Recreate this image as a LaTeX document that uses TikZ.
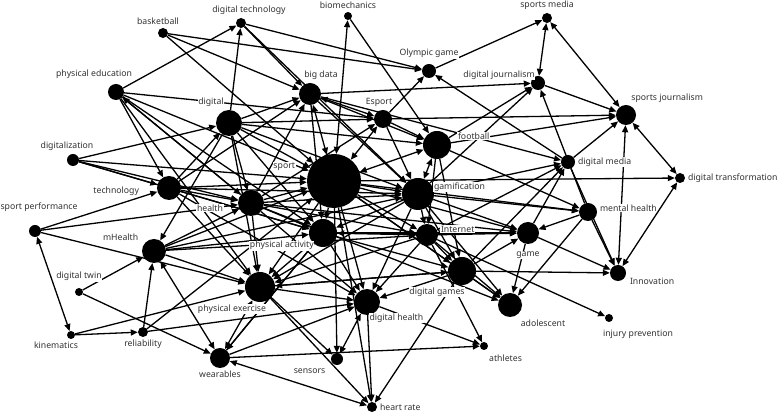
\documentclass[tikz,border=0pt]{standalone}
\usepackage{fontspec}
\setmainfont{Noto Sans}
\usetikzlibrary{arrows.meta,backgrounds}
\begin{document}
\begin{tikzpicture}[x=1pt, y=-1pt,
    vertex/.style={circle, fill=black, inner sep=0pt, minimum size=#1},
    vertex/.default=8pt,
    lbl/.style={font=\fontsize{8.7}{10}\selectfont, text=black!80, fill=white, inner sep=0.6pt},
    every label/.style={lbl}, label distance=2pt,
    arc/.style={-{Triangle[length=7pt,width=6pt]}, line width=1.3pt},
    biarc/.style={{Triangle[length=7pt,width=6pt]}-{Triangle[length=7pt,width=6pt]}, line width=1.3pt}]
    \useasboundingbox (0,0) rectangle (780,419);
    % Top row
    \node[vertex=10pt, label={[xshift=-5pt]above:basketball}]           (basketball)  at (163,33)  {};
    \node[vertex=10pt, label={[xshift=8pt]above:digital technology}]    (digitaltech) at (241,23)  {};
    \node[vertex=8pt,  label=above:biomechanics]                        (biomech)     at (348,16)  {};
    \node[vertex=10pt, label=above:sports media]                        (sportsmedia) at (547,18)  {};
    \node[vertex=14pt, label={[yshift=3pt]above:Olympic game}]          (olympic)     at (429,71)  {};
    \node[vertex=14pt, label={[xshift=4pt,yshift=-4pt]above left:digital journalism}] (digjour) at (538,83) {};
    \node[vertex=22pt, label={[xshift=11pt]above:big data}]             (bigdata)     at (310,94)  {};
    \node[vertex=18pt, label={[xshift=-4pt]above:Esport}]               (esport)      at (383,119) {};
    \node[vertex=20pt, label={[xshift=-4pt,yshift=3pt]above right:sports journalism}] (sportsjour) at (626,115) {};
    % Left side
    \node[vertex=16pt, label={[xshift=-22pt,yshift=2pt]above:physical education}] (physedu) at (116,92) {};
    \node[vertex=26pt, label={[xshift=-18pt]above:digital}]             (digital)     at (229,123) {};
    \node[vertex=12pt, label={[xshift=-6pt]above:digitalization}]       (digitalization) at (73,160) {};
    \node[vertex=24pt, label={[xshift=-15pt,yshift=-3pt]left:technology}] (technology) at (169,188) {};
    \node[vertex=26pt, label={[xshift=-12pt,yshift=-5pt]left:health}]   (health)      at (251,203) {};
    \node[vertex=12pt, label={[xshift=4pt,yshift=10pt]above:sport performance}] (sportperf) at (35,231) {};
    \node[vertex=24pt, label={[xshift=-5pt]above left:mHealth}]         (mhealth)     at (154,251) {};
    \node[vertex=8pt,  label={[yshift=4pt]above:digital twin}]          (digitaltwin) at (79,292)  {};
    \node[vertex=8pt,  label={[xshift=-15pt]below:kinematics}]          (kinematics)  at (71,335)  {};
    \node[vertex=10pt, label=below:reliability]                         (reliability) at (143,332) {};
    \node[vertex=20pt, label=below:wearables]                           (wearables)   at (220,358) {};
    % Centre
    \node[vertex=54pt, label={[xshift=-9pt,yshift=14pt]left:sport}]     (sport)       at (334,181) {};
    \node[vertex=28pt, label={[xshift=4pt,yshift=9pt]right:football}]   (football)    at (437,145) {};
    \node[vertex=32pt, label={[xshift=-3pt,yshift=7pt]right:gamification}] (gamification) at (418,194) {};
    \node[vertex=28pt, label={[xshift=3pt,yshift=4pt]below left:physical activity}] (physactivity) at (323,233) {};
    \node[vertex=22pt, label={[yshift=6pt]right:Internet}]              (internet)    at (427,235) {};
    \node[vertex=30pt, label={[xshift=-28pt]below:physical exercise}]   (physexercise) at (260,287) {};
    \node[vertex=28pt, label={[xshift=-25pt]below:digital games}]       (digitalgames) at (462,271) {};
    \node[vertex=26pt, label={[xshift=-9pt]below right:digital health}] (digitalhealth) at (367,302) {};
    % Right side
    \node[vertex=14pt, label=right:digital media]                       (digmedia)    at (568,162) {};
    \node[vertex=10pt, label=right:digital transformation]              (digtrans)    at (680,178) {};
    \node[vertex=18pt, label={[yshift=4pt]right:mental health}]         (mentalhealth) at (588,212) {};
    \node[vertex=22pt, label={[yshift=-5pt]below:game}]                 (game)        at (528,233) {};
    \node[vertex=16pt, label={[xshift=4pt,yshift=3pt]below right:Innovation}] (innovation) at (618,273) {};
    \node[vertex=24pt, label={[yshift=-4pt]below right:adolescent}]     (adolescent)  at (510,305) {};
    \node[vertex=8pt,  label={[xshift=29pt,yshift=-5pt]below:injury prevention}] (injuryprev) at (609,318) {};
    % Bottom
    \node[vertex=8pt,  label={[yshift=-4pt]below right:athletes}]       (athletes)    at (484,346) {};
    \node[vertex=12pt, label={[xshift=-5pt,yshift=-3pt]below left:sensors}] (sensors) at (337,359) {};
    \node[vertex=10pt, label=right:heart rate]                          (heartrate)   at (372,407) {};
    \begin{pgfonlayer}{background}
    % Two-way links
    \foreach \a/\b in {sport/biomech, digjour/sportsmedia, sportsmedia/sportsjour,
        innovation/sportsjour, sportsjour/digtrans, innovation/digtrans,
        sportperf/kinematics, mhealth/wearables, wearables/heartrate,
        digitalhealth/sensors, bigdata/sport, bigdata/esport, esport/sport,
        football/gamification, football/sport, physexercise/wearables}
        \draw[biarc] (\a) -- (\b);
    % Links along the top and the right
    \foreach \a/\b in {basketball/olympic, basketball/bigdata, basketball/sport,
        digitaltech/bigdata, digitaltech/olympic, digitaltech/gamification,
        physedu/digitaltech, digital/digitaltech, biomech/football,
        olympic/sportsmedia, esport/olympic, digmedia/olympic,
        bigdata/digjour, football/digjour, gamification/digjour, digjour/sportsjour,
        mentalhealth/digjour, esport/sportsjour, football/sportsjour, digmedia/sportsjour,
        sport/digtrans, digmedia/innovation, mentalhealth/innovation, game/innovation,
        digitalgames/innovation, mentalhealth/adolescent, internet/injuryprev,
        football/mentalhealth, gamification/mentalhealth, sport/mentalhealth,
        mentalhealth/game, gamification/digmedia, internet/digmedia, game/digmedia,
        digitalgames/digmedia, bigdata/digmedia}
        \draw[arc] (\a) -- (\b);
    % Links into the lower right
    \foreach \a/\b in {gamification/game, sport/game, physactivity/game, internet/game,
        game/adolescent, internet/adolescent, digitalgames/adolescent,
        gamification/adolescent, sport/adolescent, health/adolescent,
        internet/athletes, digitalhealth/athletes, wearables/athletes,
        digitalgames/heartrate, digitalhealth/heartrate, physexercise/heartrate,
        physexercise/sensors, sport/sensors, sport/heartrate}
        \draw[arc] (\a) -- (\b);
    % Links from the left
    \foreach \a/\b in {physedu/technology, physedu/health, physedu/sport, physedu/esport,
        physedu/physexercise, physedu/physactivity, health/physedu,
        digitalization/digital, digitalization/technology, digitalization/sport,
        digitalization/health, digitalization/physactivity,
        sportperf/technology, sportperf/health, sportperf/physexercise,
        kinematics/reliability, kinematics/physexercise,
        reliability/mhealth, reliability/sport, reliability/digitalhealth,
        digitaltwin/mhealth, digitaltwin/wearables,
        mhealth/physexercise, mhealth/sport, mhealth/health, mhealth/physactivity,
        mhealth/gamification, mhealth/internet, digital/mhealth}
        \draw[arc] (\a) -- (\b);
    % Links among the middle nodes
    \foreach \a/\b in {technology/digital, technology/sport, technology/health,
        technology/bigdata, technology/physactivity, technology/physexercise,
        technology/digitalhealth, technology/gamification,
        digital/bigdata, digital/esport, digital/sport, digital/football,
        digital/health, digital/physactivity, digital/physexercise, digital/gamification,
        health/sport, health/physactivity, health/physexercise, health/esport,
        health/bigdata, health/gamification, health/internet, health/digitalhealth,
        health/game, bigdata/football, bigdata/gamification, bigdata/physactivity,
        esport/football, esport/gamification, football/internet, football/digitalgames,
        sport/gamification, sport/internet, sport/digitalgames, sport/digitalhealth,
        sport/physexercise, sport/physactivity,
        gamification/internet, gamification/digitalgames, gamification/physactivity,
        gamification/physexercise, gamification/digitalhealth,
        internet/digitalgames, internet/digitalhealth, internet/physexercise,
        internet/physactivity, physactivity/physexercise, physactivity/digitalhealth,
        physactivity/digitalgames, physactivity/wearables, physexercise/digitalhealth,
        physexercise/digitalgames, digitalgames/digitalhealth, digitalgames/physexercise,
        digitalgames/game, wearables/digitalhealth, wearables/physactivity}
        \draw[arc] (\a) -- (\b);
    \end{pgfonlayer}
\end{tikzpicture}
\end{document}
